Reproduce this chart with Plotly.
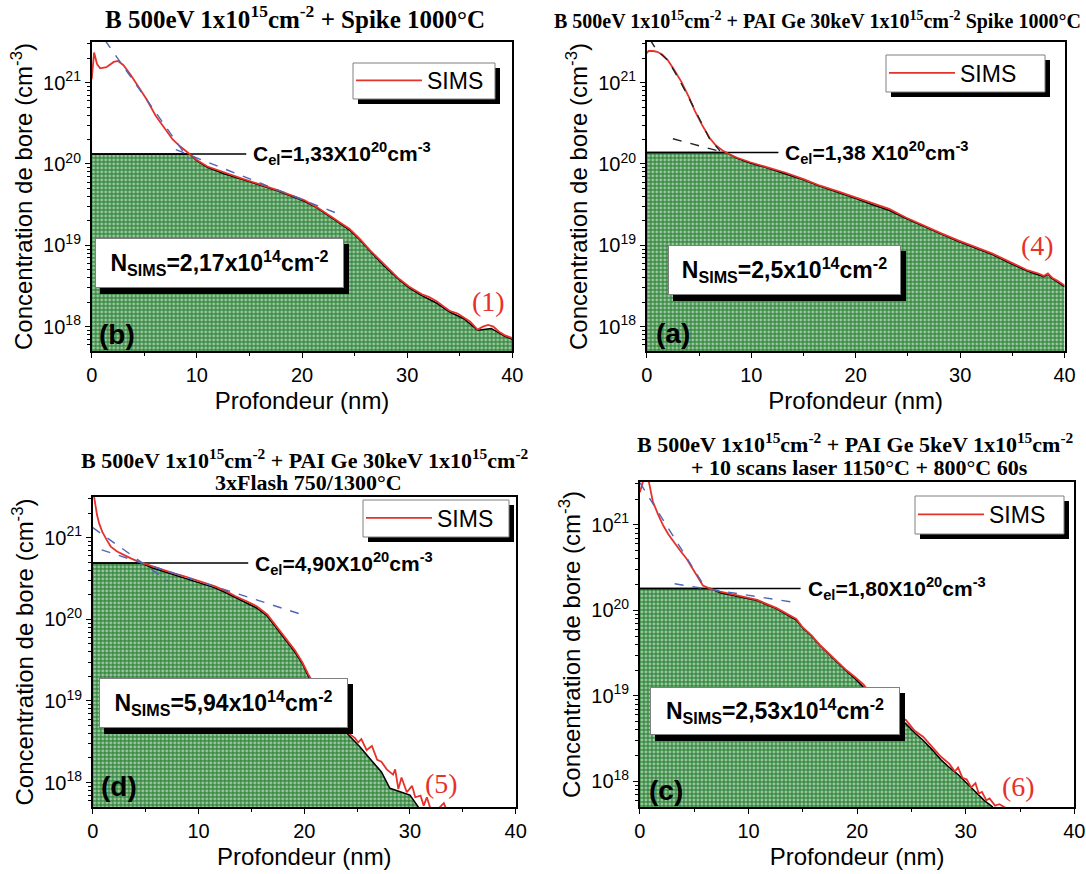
import math
import plotly.graph_objects as go

W, H = 1086, 874

# ---------------- data (depth in nm, boron concentration in cm^-3) ----------------
# Panel (b): B 500eV + Spike 1000°C
depth_b = [0, 0.23, 0.5, 0.8, 1.4, 2.1, 2.5, 3.0, 3.7, 4.4, 5.2, 6.1, 7.0, 7.7, 8.4, 9.05,
           10.0, 11.0, 12.6, 14.3, 16.0, 17.6, 19.0, 20.2, 21.4, 22.5, 23.5, 24.5, 25.5, 26.5,
           27.8, 29.1, 30.2, 31.4, 32.1, 32.8, 33.5, 34.1, 34.8, 35.4, 36.0, 36.7, 37.2, 37.7,
           38.2, 38.7, 39.3, 40]
sims_b = [1.1e21, 2.35e21, 1.7e21, 1.5e21, 1.55e21, 1.8e21, 1.85e21, 1.65e21, 1.25e21, 9.1e20,
          6.3e20, 3.9e20, 2.7e20, 2.0e20, 1.65e20, 1.42e20, 1.12e20, 9.3e19, 7.8e19, 6.6e19,
          5.6e19, 4.8e19, 4.1e19, 3.6e19, 2.95e19, 2.4e19, 1.95e19, 1.6e19, 1.2e19, 8.6e18,
          5.8e18, 4.0e18, 3.1e18, 2.5e18, 2.3e18, 2.05e18, 1.75e18, 1.55e18, 1.45e18, 1.3e18,
          1.15e18, 9.2e17, 1.0e18, 1.05e18, 1.0e18, 8.7e17, 7.8e17, 7.2e17]
active_depth_b = [0, 9.3, 10.0, 11.0, 12.6, 14.3, 16.0, 17.6, 19.0, 20.2, 21.4, 22.5, 23.5, 24.5,
                  25.5, 26.5, 27.8, 29.1, 30.2, 31.4, 32.8, 34.1, 35.4, 36.7, 38.0, 39.3, 40]
active_b = [1.33e20, 1.33e20, 1.1e20, 9.1e19, 7.6e19, 6.4e19, 5.5e19, 4.7e19, 4.0e19, 3.5e19,
            2.9e19, 2.35e19, 1.9e19, 1.55e19, 1.17e19, 8.4e18, 5.6e18, 3.9e18, 3.0e18, 2.4e18,
            1.95e18, 1.5e18, 1.25e18, 9.0e17, 9.5e17, 7.6e17, 7.0e17]
fit1_depth_b, fit1_b = [0.3, 9.2], [5.0e21, 1.15e20]
fit2_depth_b, fit2_b = [8.0, 23.4], [1.5e20, 2.45e19]
cel_b, cel_end_b = 1.33e20, 14.7

# Panel (a): B 500eV + PAI Ge 30keV + Spike 1000°C
depth_a = [0, 0.17, 0.6, 1.0, 1.5, 2.0, 2.6, 3.3, 4.0, 4.6, 5.3, 6.0, 6.6, 7.3, 8.0, 8.6, 9.9,
           11.5, 13.3, 15.0, 16.6, 18.3, 19.9, 21.5, 23.2, 24.8, 26.5, 28.2, 29.8, 31.5, 33.1,
           34.8, 36.5, 37.5, 38.0, 38.4, 38.8, 39.4, 40]
sims_a = [2.3e21, 2.45e21, 2.45e21, 2.4e21, 2.2e21, 1.9e21, 1.45e21, 1.03e21, 6.8e20, 4.5e20,
          3.0e20, 2.1e20, 1.7e20, 1.45e20, 1.3e20, 1.2e20, 1.05e20, 9.2e19, 7.8e19, 6.5e19,
          5.4e19, 4.6e19, 3.9e19, 3.3e19, 2.8e19, 2.2e19, 1.75e19, 1.4e19, 1.15e19, 9.5e18,
          7.9e18, 6.2e18, 4.9e18, 4.5e18, 4.2e18, 4.5e18, 4.0e18, 3.6e18, 3.2e18]
active_depth_a = [0, 7.6, 8.6, 9.9, 11.5, 13.3, 15.0, 16.6, 18.3, 19.9, 21.5, 23.2, 24.8, 26.5,
                  28.2, 29.8, 31.5, 33.1, 34.8, 36.5, 38.0, 38.4, 38.8, 40]
active_a = [1.38e20, 1.38e20, 1.18e20, 1.03e20, 9.0e19, 7.6e19, 6.4e19, 5.3e19, 4.5e19, 3.8e19,
            3.2e19, 2.7e19, 2.15e19, 1.7e19, 1.37e19, 1.12e19, 9.2e18, 7.7e18, 6.0e18, 4.8e18,
            4.1e18, 4.4e18, 3.9e18, 3.1e18]
fit1_depth_a = [0.3, 1.0, 2.0, 3.0, 4.0, 5.0, 6.0, 7.0]
fit1_a = [3.4e21, 2.45e21, 1.9e21, 1.15e21, 6.6e20, 3.6e20, 2.05e20, 1.45e20]
fit2_depth_a, fit2_a = [2.5, 7.0], [2.04e20, 1.43e20]
cel_a, cel_end_a = 1.38e20, 12.6

# Panel (d): B 500eV + PAI Ge 30keV + 3xFlash 750/1300°C
depth_d = [0, 0.2, 0.4, 0.6, 0.9, 1.3, 1.7, 2.3, 3.0, 3.6, 4.3, 5.0, 5.6, 6.6, 7.6, 8.6, 9.6,
           10.5, 11.5, 12.5, 13.5, 14.5, 15.5, 16.5, 17.6, 18.4, 19.1, 19.8, 20.4, 21.2, 22.0,
           22.7, 23.3, 23.8, 24.3, 24.8, 25.1, 25.4, 25.9, 26.4, 26.9, 27.3, 27.8, 28.4, 28.6,
           28.9, 29.2, 29.7, 30.2, 30.5, 31.0, 31.3, 31.6, 32.0, 32.5, 33.2, 33.5]
sims_d = [4.0e21, 2.6e21, 1.9e21, 1.5e21, 1.18e21, 9.5e20, 7.8e20, 6.8e20, 6.2e20, 5.6e20,
          5.1e20, 4.75e20, 4.45e20, 4.05e20, 3.7e20, 3.4e20, 3.1e20, 2.85e20, 2.55e20, 2.25e20,
          1.92e20, 1.68e20, 1.45e20, 1.15e20, 7.4e19, 5.4e19, 4.2e19, 3.0e19, 2.1e19, 1.4e19,
          9.3e18, 7.0e18, 5.4e18, 4.6e18, 3.9e18, 3.5e18, 3.1e18, 3.4e18, 2.5e18, 2.8e18,
          1.9e18, 1.8e18, 1.45e18, 1.25e18, 1.45e18, 8.3e17, 1.15e18, 7.6e17, 9.1e17, 6.6e17,
          6.9e17, 5.2e17, 6.6e17, 4.5e17, 4.5e17, 5.6e17, 4.5e17]
active_depth_d = [0, 4.6, 5.6, 6.6, 7.6, 8.6, 9.6, 10.5, 11.5, 12.5, 13.5, 14.5, 15.5, 16.5,
                  17.6, 18.4, 19.1, 19.8, 20.4, 21.2, 22.0, 22.7, 23.3, 24.3, 25.3, 26.3, 27.3,
                  28.1, 29.0, 30.0, 30.8]
active_d = [4.9e20, 4.9e20, 4.3e20, 3.9e20, 3.55e20, 3.25e20, 2.95e20, 2.7e20, 2.45e20, 2.15e20,
            1.85e20, 1.6e20, 1.38e20, 1.1e20, 7.1e19, 5.2e19, 4.0e19, 2.9e19, 2.0e19, 1.35e19,
            9.0e18, 6.8e18, 5.2e18, 3.7e18, 2.7e18, 1.9e18, 1.35e18, 8.5e17, 7.8e17, 7.0e17,
            5.0e17]
fit1_depth_d, fit1_d = [0, 7.1], [1.33e21, 2.95e20]
fit2_depth_d, fit2_d = [0.84, 20.2], [7.1e20, 1.1e20]
cel_d, cel_end_d = 4.90e20, 14.7

# Panel (c): B 500eV + PAI Ge 5keV + 10 scans laser 1150°C + 800°C 60s
depth_c = [0, 0.3, 0.5, 0.8, 1.2, 1.7, 2.15, 2.6, 3.1, 3.7, 4.3, 4.8, 5.2, 5.8, 6.5, 7.4, 8.9,
           10.8, 12.6, 13.5, 14.4, 15.0, 15.8, 16.6, 17.4, 18.2, 19.0, 19.8, 20.6, 21.4, 22.1,
           22.9, 23.7, 24.5, 25.3, 26.1, 26.9, 27.7, 28.5, 29.0, 29.3, 29.7, 30.1, 30.5, 30.9,
           31.2, 31.5, 31.9, 32.2, 32.7, 33.1, 33.8]
sims_c = [2.4e21, 3.3e21, 4.0e21, 3.3e21, 1.85e21, 1.3e21, 9.8e20, 7.8e20, 6.3e20, 5.0e20,
          4.0e20, 3.2e20, 2.6e20, 1.95e20, 1.78e20, 1.65e20, 1.5e20, 1.32e20, 1.06e20, 9.2e19,
          7.9e19, 6.3e19, 5.1e19, 3.9e19, 3.1e19, 2.45e19, 2.0e19, 1.66e19, 1.35e19, 1.0e19,
          8.4e18, 7.1e18, 5.8e18, 5.2e18, 3.9e18, 3.3e18, 2.5e18, 1.95e18, 1.6e18, 1.3e18,
          1.45e18, 1.1e18, 1.05e18, 8.5e17, 9.5e17, 7.2e17, 7.5e17, 6.0e17, 6.3e17, 5.2e17,
          5.4e17, 4.8e17]
active_depth_c = [0, 6.5, 7.4, 8.9, 10.8, 12.6, 13.5, 14.4, 15.0, 15.8, 16.6, 17.4, 18.2, 19.0,
                  19.8, 20.6, 21.4, 22.1, 22.9, 23.7, 24.5, 25.3, 26.1, 26.9, 27.7, 28.5, 29.3,
                  30.1, 30.9, 31.7, 32.5]
active_c = [1.8e20, 1.8e20, 1.6e20, 1.47e20, 1.3e20, 1.04e20, 9.0e19, 7.7e19, 6.2e19, 5.0e19,
            3.85e19, 3.05e19, 2.4e19, 1.95e19, 1.6e19, 1.25e19, 9.8e18, 8.2e18, 6.9e18, 5.6e18,
            4.7e18, 3.7e18, 3.0e18, 2.35e18, 1.8e18, 1.45e18, 1.2e18, 9.5e17, 7.5e17, 6.0e17,
            5.0e17]
fit1_depth_c, fit1_c = [0, 6.0], [3.1e21, 1.86e20]
fit2_depth_c, fit2_c = [3.2, 14.0], [2.04e20, 1.25e20]
cel_c, cel_end_c = 1.80e20, 14.8

# ---------------- texts ----------------
titles_b = ["B 500eV 1x10<sup>15</sup>cm<sup>-2</sup> + Spike 1000°C"]
titles_a = ["B 500eV 1x10<sup>15</sup>cm<sup>-2</sup> + PAI Ge 30keV 1x10<sup>15</sup>cm<sup>-2</sup> Spike 1000°C"]
titles_d = ["B 500eV 1x10<sup>15</sup>cm<sup>-2</sup> + PAI Ge 30keV 1x10<sup>15</sup>cm<sup>-2</sup>",
            "3xFlash 750/1300°C"]
titles_c = ["B 500eV 1x10<sup>15</sup>cm<sup>-2</sup> + PAI Ge 5keV 1x10<sup>15</sup>cm<sup>-2</sup>",
            "+ 10 scans laser 1150°C + 800°C 60s"]
cel_text = ["C<sub>el</sub>=1,33X10<sup>20</sup>cm<sup>-3</sup>",
            "C<sub>el</sub>=1,38 X10<sup>20</sup>cm<sup>-3</sup>",
            "C<sub>el</sub>=4,90X10<sup>20</sup>cm<sup>-3</sup>",
            "C<sub>el</sub>=1,80X10<sup>20</sup>cm<sup>-3</sup>"]
nsims_text = ["N<sub>SIMS</sub>=2,17x10<sup>14</sup>cm<sup>-2</sup>",
              "N<sub>SIMS</sub>=2,5x10<sup>14</sup>cm<sup>-2</sup>",
              "N<sub>SIMS</sub>=5,94x10<sup>14</sup>cm<sup>-2</sup>",
              "N<sub>SIMS</sub>=2,53x10<sup>14</sup>cm<sup>-2</sup>"]
panel_letters = ["(b)", "(a)", "(d)", "(c)"]
sample_labels = ["(1)", "(4)", "(5)", "(6)"]
x_ticks = [0, 10, 20, 30, 40]
y_ticks = [1e18, 1e19, 1e20, 1e21]
y_ticktext = ["10<sup>18</sup>", "10<sup>19</sup>", "10<sup>20</sup>", "10<sup>21</sup>"]
x_title = "Profondeur (nm)"
y_title = "Concentration de bore (cm<sup>-3</sup>)"

# ---------------- styling / layout ----------------
RED = "#e5322b"
BLUE = "#5066b4"
DARK = "#222222"
GREEN = "#3a8c44"
SANS = "Liberation Sans"
SERIF = "Liberation Serif"


def PX(p):
    return p / W


def PY(p):
    return 1 - p / H


panels = [
    dict(depth=depth_b, sims=sims_b, adepth=active_depth_b, act=active_b,
         fits=[(fit1_depth_b, fit1_b, BLUE), (fit2_depth_b, fit2_b, BLUE)],
         cel=cel_b, cel_end=cel_end_b, titles=titles_b,
         dom=(91.7, 512.3, 42, 351),
         title_pos=[(294.5, 17)], title_size=25,
         lbox=(353, 63, 495, 99), nbox=(95, 238, 344, 288),
         letter=(97, 334.5), sample=(488.5, 301.5)),
    dict(depth=depth_a, sims=sims_a, adepth=active_depth_a, act=active_a,
         fits=[(fit1_depth_a, fit1_a, DARK), (fit2_depth_a, fit2_a, DARK)],
         cel=cel_a, cel_end=cel_end_a, titles=titles_a,
         dom=(646.8, 1064.6, 42, 351),
         title_pos=[(817, 21)], title_size=20,
         lbox=(886, 55, 1045, 92), nbox=(668, 245, 901, 295),
         letter=(654, 333.5), sample=(1037, 245)),
    dict(depth=depth_d, sims=sims_d, adepth=active_depth_d, act=active_d,
         fits=[(fit1_depth_d, fit1_d, BLUE), (fit2_depth_d, fit2_d, BLUE)],
         cel=cel_d, cel_end=cel_end_d, titles=titles_d,
         dom=(92.8, 515.7, 497, 807),
         title_pos=[(305, 459), (308, 482)], title_size=22,
         lbox=(363, 500, 509, 537), nbox=(99, 678, 348, 728),
         letter=(99, 786.5), sample=(441.5, 783.5)),
    dict(depth=depth_c, sims=sims_c, adepth=active_depth_c, act=active_c,
         fits=[(fit1_depth_c, fit1_c, BLUE), (fit2_depth_c, fit2_c, BLUE)],
         cel=cel_c, cel_end=cel_end_c, titles=titles_c,
         dom=(639.9, 1074.3, 482, 807),
         title_pos=[(855, 443), (859, 467)], title_size=22,
         lbox=(915, 496, 1064, 534), nbox=(650, 687, 900, 735),
         letter=(647, 790), sample=(1018, 786.5)),
]

y_minor = [k * 10.0 ** e for e in range(17, 22) for k in range(2, 10)
           if 5e17 <= k * 10.0 ** e <= 3.1e21]

fig = go.Figure()
shapes = []
annotations = []
layout = dict(width=W, height=H, margin=dict(l=0, r=0, t=0, b=0, autoexpand=False),
              autosize=False, paper_bgcolor="white", plot_bgcolor="white", showlegend=True)

for i, p in enumerate(panels, start=1):
    sfx = "" if i == 1 else str(i)
    xa, ya = "x" + sfx, "y" + sfx
    lg = "legend" + sfx
    x0, x1, y0, y1 = p["dom"]

    # electrically active profile, hatched
    fig.add_trace(go.Scatter(
        x=p["adepth"], y=p["act"], xaxis=xa, yaxis=ya, mode="lines",
        line=dict(color="black", width=1.5), fill="tozeroy", fillcolor=GREEN,
        fillpattern=dict(shape=".", fgcolor="white", bgcolor=GREEN, size=4, solidity=0.42),
        showlegend=False, hoverinfo="skip"))
    # C_el leader line
    fig.add_trace(go.Scatter(
        x=[0, p["cel_end"]], y=[p["cel"], p["cel"]], xaxis=xa, yaxis=ya, mode="lines",
        line=dict(color="black", width=1.5), showlegend=False, hoverinfo="skip"))
    # SIMS profile
    fig.add_trace(go.Scatter(
        x=p["depth"], y=p["sims"], xaxis=xa, yaxis=ya, mode="lines", name="SIMS",
        line=dict(color=RED, width=1.8), legend=lg, showlegend=True))
    # fit lines
    for fx, fy, col in p["fits"]:
        fig.add_trace(go.Scatter(
            x=fx, y=fy, xaxis=xa, yaxis=ya, mode="lines",
            line=dict(color=col, width=1.4, dash="dash"), showlegend=False, hoverinfo="skip"))

    layout["xaxis" + sfx] = dict(
        domain=[PX(x0), PX(x1)], anchor=ya, range=[0, 40], tickvals=x_ticks,
        automargin=False,
        ticks="outside", ticklen=5, tickwidth=1.3, tickcolor="black",
        minor=dict(tickvals=[5, 15, 25, 35], ticks="outside", ticklen=3, tickcolor="black"),
        showline=True, linecolor="black", linewidth=1.5, mirror=True,
        showgrid=False, zeroline=False,
        tickfont=dict(family=SANS, size=20, color="black"),
        title=dict(text=x_title, font=dict(family=SANS, size=24, color="black"), standoff=7))
    layout["yaxis" + sfx] = dict(
        domain=[PY(y1), PY(y0)], anchor=xa, type="log", range=[17.7, 21.5],
        tickvals=y_ticks, ticktext=y_ticktext, automargin=False,
        ticks="outside", ticklen=5, tickwidth=1.3, tickcolor="black",
        minor=dict(tickvals=y_minor, ticks="outside", ticklen=3, tickcolor="black"),
        showline=True, linecolor="black", linewidth=1.5, mirror=True,
        showgrid=False, zeroline=False,
        tickfont=dict(family=SANS, size=20, color="black"),
        title=dict(text=y_title, font=dict(family=SANS, size=24, color="black"), standoff=4))

    # legend: drawn box with shadow, plotly legend (transparent) inside it
    lx0, ly0, lx1, ly1 = p["lbox"]
    shapes.append(dict(type="rect", xref="paper", yref="paper",
                       x0=PX(lx0 + 5), x1=PX(lx1 + 5), y0=PY(ly1 + 5), y1=PY(ly0 + 5),
                       fillcolor="black", line=dict(width=0), layer="above"))
    shapes.append(dict(type="rect", xref="paper", yref="paper",
                       x0=PX(lx0), x1=PX(lx1), y0=PY(ly1), y1=PY(ly0),
                       fillcolor="white", line=dict(color="#808080", width=1), layer="above"))
    layout[lg] = dict(x=PX(lx0 - 2), y=PY((ly0 + ly1) / 2 - 22), xanchor="left", yanchor="top",
                      bgcolor="rgba(0,0,0,0)", borderwidth=0,
                      font=dict(family=SANS, size=23, color="black"), itemwidth=66)

    # N_SIMS box with shadow
    bx0, by0, bx1, by1 = p["nbox"]
    shapes.append(dict(type="rect", xref="paper", yref="paper",
                       x0=PX(bx0 + 5), x1=PX(bx1 + 5), y0=PY(by1 + 6), y1=PY(by0 + 6),
                       fillcolor="black", line=dict(width=0), layer="above"))
    annotations.append(dict(
        text=nsims_text[i - 1], xref="paper", yref="paper", x=PX(bx0), y=PY(by0),
        xanchor="left", yanchor="top", width=bx1 - bx0 - 2, height=by1 - by0 - 2,
        align="center", valign="middle", showarrow=False, bgcolor="white",
        bordercolor="#808080", borderwidth=1, borderpad=0,
        font=dict(family=SANS, size=23, color="black", weight="bold")))

    # C_el label
    annotations.append(dict(
        text=cel_text[i - 1], xref=xa, yref=ya, x=p["cel_end"], y=math.log10(p["cel"]),
        xanchor="left", yanchor="middle", xshift=5, showarrow=False,
        font=dict(family=SANS, size=21, color="black", weight="bold")))

    # titles
    for t, (tx, ty) in zip(p["titles"], p["title_pos"]):
        annotations.append(dict(
            text=t, xref="paper", yref="paper", x=PX(tx), y=PY(ty),
            xanchor="center", yanchor="middle", showarrow=False,
            font=dict(family=SERIF, size=p["title_size"], color="black", weight="bold")))

    # panel letter
    lx2, ly2 = p["letter"]
    annotations.append(dict(
        text=panel_letters[i - 1], xref="paper", yref="paper", x=PX(lx2), y=PY(ly2),
        xanchor="left", yanchor="middle", showarrow=False,
        font=dict(family=SANS, size=28, color="black", weight="bold")))

    # sample label (red)
    sx, sy = p["sample"]
    annotations.append(dict(
        text=sample_labels[i - 1], xref="paper", yref="paper", x=PX(sx), y=PY(sy),
        xanchor="center", yanchor="middle", showarrow=False,
        font=dict(family=SERIF, size=28, color=RED)))

layout["shapes"] = shapes
layout["annotations"] = annotations
fig.update_layout(**layout)
fig.write_html("out.html", config={"displayModeBar": False},
               post_script="document.body.style.margin='0px';document.body.style.padding='0px';"
                           "document.body.style.overflow='hidden';")
